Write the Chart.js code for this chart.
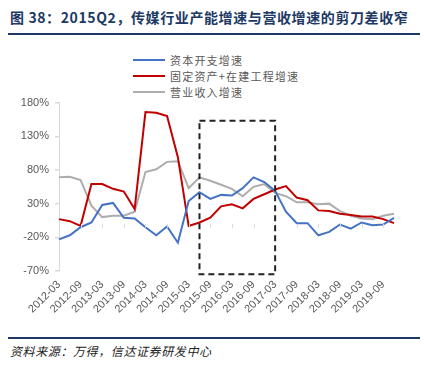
<!DOCTYPE html>
<html>
<head>
<meta charset="utf-8">
<script src="https://cdn.jsdelivr.net/npm/chart.js@4/dist/chart.umd.min.js"></script>
<style>
  body { margin: 0; background: #fff; }
  #wrap { position: relative; width: 424px; height: 369px; overflow: hidden; font-family: "Noto Sans CJK SC", sans-serif; }
  #title { position: absolute; left: 10px; top: 7px; font-size: 14px; font-weight: bold; color: #203864; letter-spacing: 0.6px; white-space: nowrap; }
  #topline { position: absolute; left: 8px; top: 33px; width: 412px; height: 2px; background: #203864; }
  #legend { position: absolute; left: 133px; top: 52px; }
  .item { position: relative; height: 16px; width: 260px; }
  .item span.ln { position: absolute; left: 0; top: 7px; width: 32px; height: 2px; }
  .item span.tx { position: absolute; left: 37px; top: 0; font-size: 11px; line-height: 16px; color: #595959; letter-spacing: 1.2px; white-space: nowrap; }
  #box { position: absolute; left: 0; top: 90px; width: 424px; height: 240px; }
  #botline { position: absolute; left: 8px; top: 337px; width: 412px; height: 2px; background: #203864; }
  #source { position: absolute; left: 10px; top: 342px; font-size: 12px; font-style: italic; color: #222; letter-spacing: 0.6px; white-space: nowrap; }
</style>
</head>
<body>
<div id="wrap">
  <div id="title">图 38：2015Q2，传媒行业产能增速与营收增速的剪刀差收窄</div>
  <div id="topline"></div>
  <div id="legend"></div>
  <div id="box"><canvas id="myChart" width="424" height="240"></canvas></div>
  <div id="botline"></div>
  <div id="source">资料来源：万得，信达证券研发中心</div>
</div>
<script>
// quarterly dates 2012-03 .. 2019-12
var quarters = [
  "2012-03","2012-06","2012-09","2012-12","2013-03","2013-06","2013-09","2013-12",
  "2014-03","2014-06","2014-09","2014-12","2015-03","2015-06","2015-09","2015-12",
  "2016-03","2016-06","2016-09","2016-12","2017-03","2017-06","2017-09","2017-12",
  "2018-03","2018-06","2018-09","2018-12","2019-03","2019-06","2019-09","2019-12"
];
var seriesNames = ["资本开支增速", "固定资产+在建工程增速", "营业收入增速"];
var capex = [-23,-17,-5,2,28,31,9,8,-5,-17,-4,-28,34,47,37,43,42,53,69,62,49,18,1,1,-17,-12,-1,-7,2,-2,-1,9];
var fixedAssets = [7,4,-3,59,59,52,48,22,166,165,160,99,-3,2,9,26,29,23,37,44,51,56,39,35,20,19,15,13,11,11,7,1];
var revenue = [69,70,65,27,10,12,12,18,77,81,92,93,53,69,64,58,52,41,55,59,46,41,32,32,29,30,19,12,8,7,12,15];
var yTicks = [-70,-20,30,80,130,180];
var colors = ['#4472C4', '#C00000', '#ADADAD'];
// dashed highlight box: quarter index range and value range
var boxFrom = 13, boxTo = 20, boxTop = 153, boxBottom = -75;

// legend
var lg = document.getElementById('legend');
for (var i = 0; i < seriesNames.length; i++) {
  var d = document.createElement('div');
  d.className = 'item';
  d.innerHTML = '<span class="ln" style="background:' + colors[i] + '"></span><span class="tx">' + seriesNames[i] + '</span>';
  lg.appendChild(d);
}

var extras = {
  id: 'extras',
  afterDatasetsDraw: function(chart) {
    var ctx = chart.ctx;
    var x = chart.scales.x, y = chart.scales.y;
    var y0 = y.getPixelForValue(0);
    ctx.save();
    // tick marks on the zero line
    ctx.strokeStyle = '#d9d9d9';
    ctx.lineWidth = 1;
    for (var i = 0; i < quarters.length; i += 2) {
      var px = Math.round(x.getPixelForValue(i)) + 0.5;
      ctx.beginPath();
      ctx.moveTo(px, y0);
      ctx.lineTo(px, y0 + 4);
      ctx.stroke();
    }
    // dashed box
    var l = x.getPixelForValue(boxFrom), r = x.getPixelForValue(boxTo);
    var t = y.getPixelForValue(boxTop), b = y.getPixelForValue(boxBottom);
    ctx.strokeStyle = '#222';
    ctx.lineWidth = 2;
    ctx.setLineDash([6, 4]);
    ctx.strokeRect(l, t, r - l, b - t);
    ctx.restore();
  }
};

var ctx = document.getElementById('myChart').getContext('2d');
var data = [capex, fixedAssets, revenue];
var datasets = [];
for (var i = 0; i < data.length; i++) {
  datasets.push({
    label: seriesNames[i],
    data: data[i],
    borderColor: colors[i],
    backgroundColor: colors[i],
    borderWidth: 2,
    pointRadius: 0,
    fill: false,
    tension: 0
  });
}
var myChart = new Chart(ctx, {
  type: 'line',
  data: { labels: quarters, datasets: datasets },
  plugins: [extras],
  options: {
    responsive: false,
    animation: false,
    layout: { padding: { top: 10, right: 30, left: 0, bottom: 0 } },
    plugins: { legend: { display: false }, tooltip: { enabled: false } },
    scales: {
      x: {
        offset: false,
        grid: { display: false, drawTicks: false },
        border: { display: false },
        afterFit: function(s) { s.height = 59; },
        ticks: {
          autoSkip: false,
          minRotation: 45,
          maxRotation: 45,
          padding: 7,
          color: '#595959',
          font: { family: 'Liberation Sans', size: 11 },
          callback: function(v, i) { return i % 2 === 0 ? quarters[i] : ''; }
        }
      },
      y: {
        min: -70,
        max: 180,
        afterFit: function(s) { s.width = 59; },
        afterBuildTicks: function(s) { s.ticks = yTicks.map(function(v) { return { value: v }; }); },
        border: { display: true, color: '#d9d9d9' },
        grid: {
          color: function(c) { return c.tick && c.tick.value === 0 ? '#d9d9d9' : 'rgba(0,0,0,0)'; },
          tickColor: '#d9d9d9',
          tickLength: 4,
          lineWidth: 1.5
        },
        ticks: {
          padding: 6,
          color: '#595959',
          font: { family: 'Liberation Sans', size: 11 },
          callback: function(v) { return v + '%'; }
        }
      }
    }
  }
});
</script>
</body>
</html>
